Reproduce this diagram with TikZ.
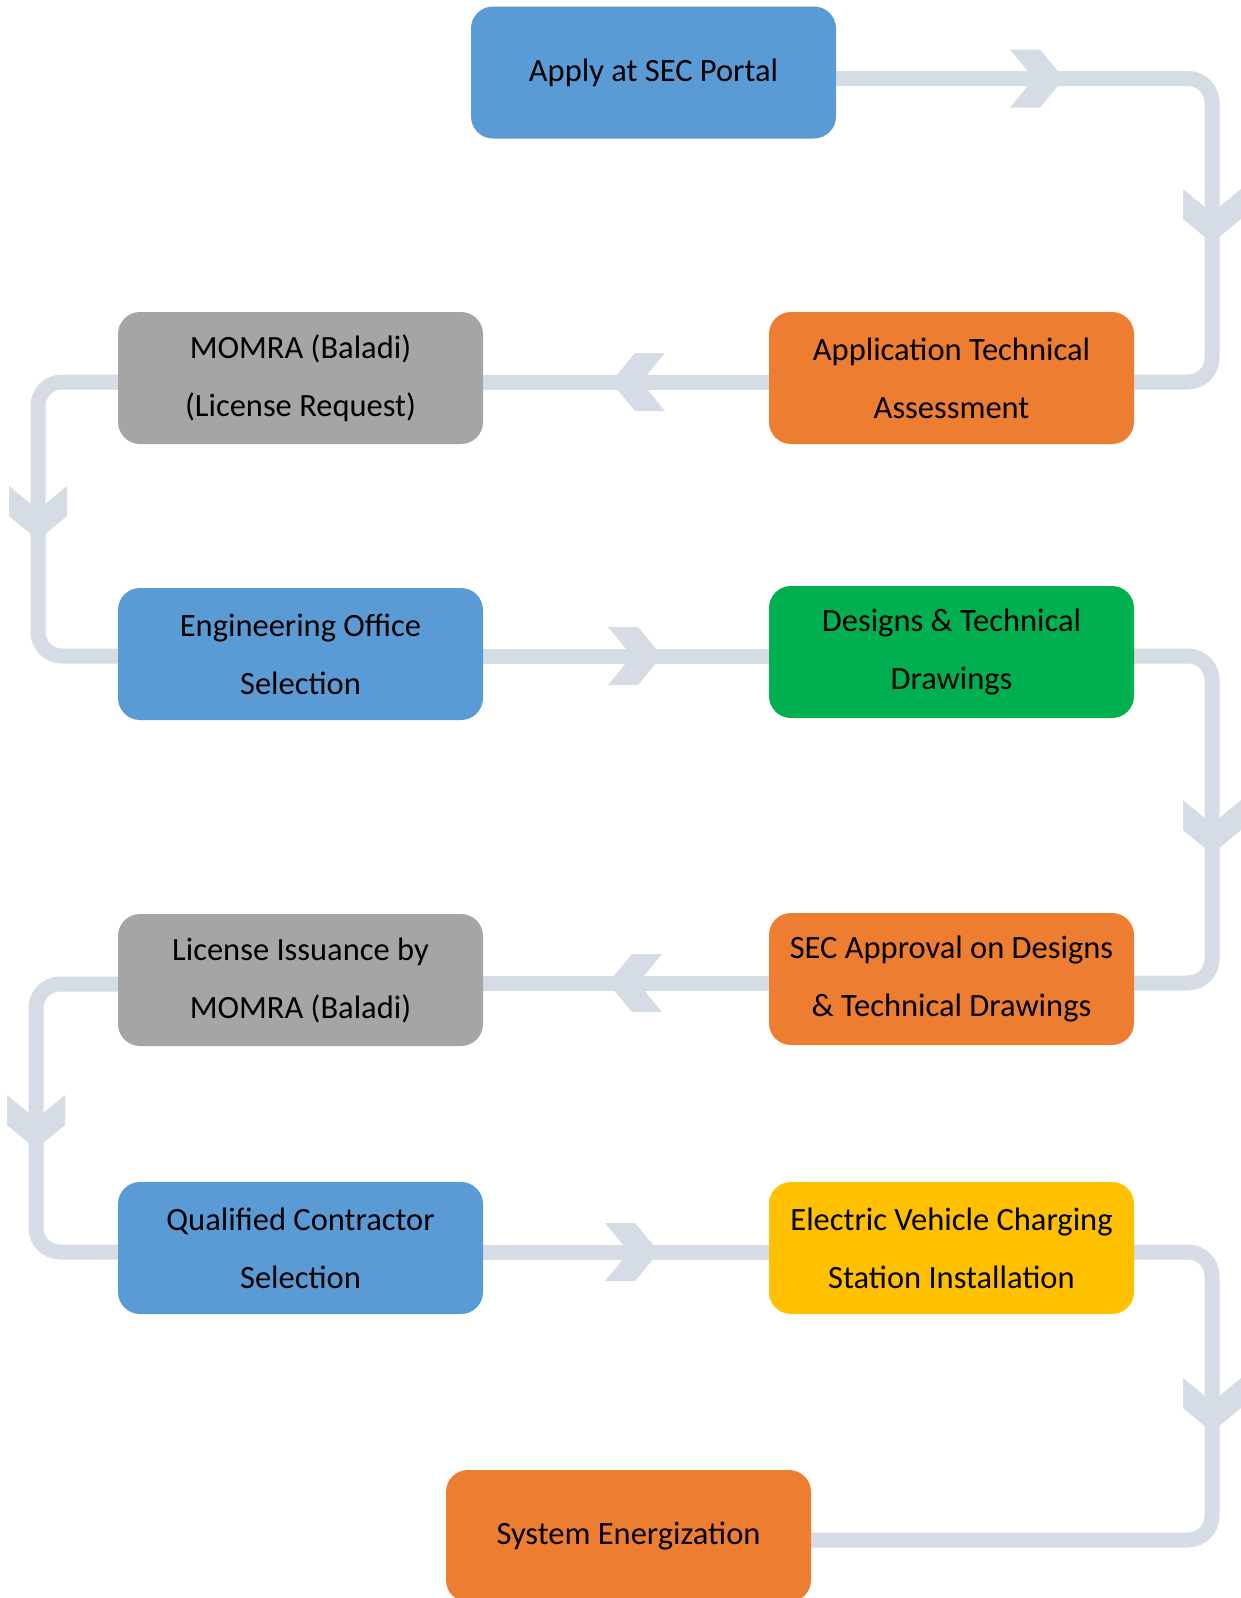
\documentclass[tikz,border=0pt]{standalone}
\usepackage{fontspec}
\setmainfont{Carlito}
\definecolor{cblue}{HTML}{5B9BD5}
\definecolor{corange}{HTML}{ED7D31}
\definecolor{cgray}{HTML}{A5A5A5}
\definecolor{cgreen}{HTML}{00B050}
\definecolor{cyellow}{HTML}{FFC000}
\definecolor{cline}{HTML}{D6DCE5}
\pgfdeclarelayer{bg}
\pgfsetlayers{bg,main}
\tikzset{
  stepbox/.style={rounded corners=22pt, minimum width=365pt, minimum height=132pt,
    inner sep=0pt, align=center, text=black, font=\fontsize{32.5}{58}\selectfont},
  conn/.style={draw=cline, line width=15pt, rounded corners=24pt},
  pics/chev/.style={code={\fill[cline] (-54,-29) -- (-24,-29) -- (0,0) -- (-24,29) -- (-54,29) -- (-30,0) -- cycle;}}
}
\begin{document}
\begin{tikzpicture}[x=1pt,y=-1pt]
\clip (0,0) rectangle (1241,1598);
% nodes
\node[stepbox, fill=cblue]   (apply) at (653.5,72.5) {Apply at SEC Portal};
\node[stepbox, fill=corange] (ata)   at (951.5,378)  {Application Technical\\Assessment};
\node[stepbox, fill=cgray]   (momra) at (300.5,378)  {MOMRA (Baladi)\\(License Request)};
\node[stepbox, fill=cblue]   (eng)   at (300.5,654)  {Engineering Office\\Selection};
\node[stepbox, fill=cgreen]  (des)   at (951.5,652)  {Designs \& Technical\\Drawings};
\node[stepbox, fill=corange] (secap) at (951.5,979)  {SEC Approval on Designs\\\& Technical Drawings};
\node[stepbox, fill=cgray]   (lic)   at (300.5,980)  {License Issuance by\\MOMRA (Baladi)};
\node[stepbox, fill=cblue]   (qual)  at (300.5,1248) {Qualified Contractor\\Selection};
\node[stepbox, fill=cyellow] (ev)    at (951.5,1248) {Electric Vehicle Charging\\Station Installation};
\node[stepbox, fill=corange] (sys)   at (628.5,1536) {System Energization};
% corner coordinates
\coordinate (c1a) at (1212,78.5);
\coordinate (c1b) at (1212,382);
\coordinate (c2a) at (38,382);
\coordinate (c2b) at (38,656);
\coordinate (c3a) at (1212,656);
\coordinate (c3b) at (1212,983);
\coordinate (c4a) at (36,984);
\coordinate (c4b) at (36,1252);
\coordinate (c5a) at (1212,1252);
\coordinate (c5b) at (1212,1540);
\begin{pgfonlayer}{bg}
\fill[white] (0,0) rectangle (1241,1598);
% connectors (behind boxes)
\draw[conn] ([yshift=-6pt]apply.east) -- (c1a) -- (c1b) -- ([yshift=-4pt]ata.east);
\draw[conn] ([yshift=-4pt]ata.west) -- ([yshift=-4pt]momra.east);
\draw[conn] ([yshift=-4pt]momra.west) -- (c2a) -- (c2b) -- ([yshift=-2pt]eng.west);
\draw[conn] ([yshift=-2pt]eng.east) -- ([yshift=-2pt]eng.east -| des.west);
\draw[conn] ([yshift=-4pt]des.east) -- (c3a) -- (c3b) -- ([yshift=-4pt]secap.east);
\draw[conn] ([yshift=-4pt]secap.west) -- ([yshift=-4pt]secap.west -| lic.east);
\draw[conn] ([yshift=-4pt]lic.west) -- (c4a) -- (c4b) -- ([yshift=-4pt]qual.west);
\draw[conn] ([yshift=-4pt]qual.east) -- ([yshift=-4pt]ev.west);
\draw[conn] ([yshift=-4pt]ev.east) -- (c5a) -- (c5b) -- ([yshift=-4pt]sys.east);
% chevrons
\pic at (1064,78.5) {chev};
\pic[rotate=-90] at (1212,243) {chev};
\pic[rotate=180] at (611,382) {chev};
\pic[rotate=-90] at (38,540) {chev};
\pic at (662,656) {chev};
\pic[rotate=-90] at (1212,854) {chev};
\pic[rotate=180] at (608,983) {chev};
\pic[rotate=-90] at (36,1149) {chev};
\pic at (659,1252) {chev};
\pic[rotate=-90] at (1212,1432) {chev};
\end{pgfonlayer}
\end{tikzpicture}
\end{document}
